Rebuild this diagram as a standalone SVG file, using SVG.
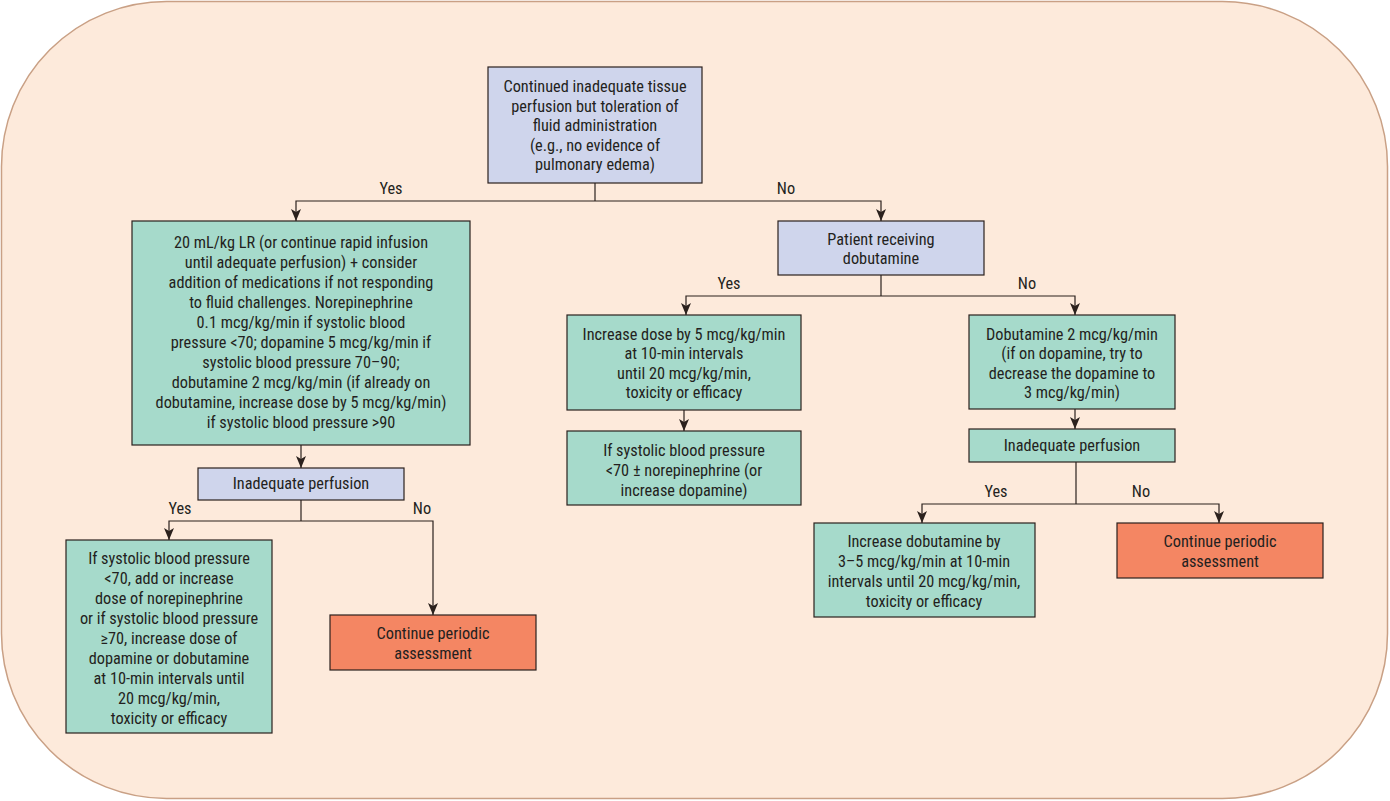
<svg xmlns="http://www.w3.org/2000/svg" width="1390" height="801" viewBox="0 0 1390 801">
<defs>
<marker id="ah" markerUnits="userSpaceOnUse" viewBox="0 0 12 10" refX="12" refY="5" markerWidth="13" markerHeight="10" orient="auto">
<path d="M0,0 L12,5 L0,10 L3,5 Z" fill="#2b211d"/>
</marker>
<style>
.bl{fill:#cfd5ec;stroke:#2b211d;stroke-width:1.2}
.tl{fill:#a6dacb;stroke:#2b211d;stroke-width:1.2}
.or{fill:#f48663;stroke:#2b211d;stroke-width:1.2}
text{font-family:"Liberation Sans Narrow","Roboto Condensed","Liberation Sans",Arial,sans-serif;font-size:16.3px;fill:#231f20;text-anchor:middle}
.c line,.c polyline{stroke:#2b211d;stroke-width:1.2;fill:none}
</style>
</defs>
<rect x="1.5" y="1.5" width="1386" height="797" rx="165" ry="165" fill="#fdeadb" stroke="#c9a085" stroke-width="1.5"/>

<g class="c" id="connectors">
<polyline points="595,183 595,201"/>
<polyline points="595,201 296,201 296,221" marker-end="url(#ah)"/>
<polyline points="595,201 881,201 881,221" marker-end="url(#ah)"/>
<line x1="301" y1="445" x2="301" y2="468" marker-end="url(#ah)"/>
<polyline points="301,500 301,521"/>
<polyline points="301,521 169,521 169,540" marker-end="url(#ah)"/>
<polyline points="301,521 433,521 433,615" marker-end="url(#ah)"/>
<polyline points="881,275 881,296"/>
<polyline points="881,296 686,296 686,315" marker-end="url(#ah)"/>
<polyline points="881,296 1075,296 1075,315" marker-end="url(#ah)"/>
<line x1="684" y1="410" x2="684" y2="431" marker-end="url(#ah)"/>
<line x1="1075" y1="409" x2="1075" y2="429" marker-end="url(#ah)"/>
<polyline points="1076,462 1076,504"/>
<polyline points="1076,504 922,504 922,523" marker-end="url(#ah)"/>
<polyline points="1076,504 1219,504 1219,523" marker-end="url(#ah)"/>
<text x="391" y="194">Yes</text>
<text x="786" y="194">No</text>
<text x="180" y="514">Yes</text>
<text x="422" y="514">No</text>
<text x="729" y="289">Yes</text>
<text x="1027" y="289">No</text>
<text x="996" y="497">Yes</text>
<text x="1141" y="497">No</text>
</g>

<g id="n1">
<rect class="bl" x="488" y="67" width="214" height="116"/>
<text x="595" y="92">Continued inadequate tissue</text>
<text x="595" y="112">perfusion but toleration of</text>
<text x="595" y="131">fluid administration</text>
<text x="595" y="151">(e.g., no evidence of</text>
<text x="595" y="170">pulmonary edema)</text>
</g>

<g id="n2">
<rect class="tl" x="132" y="221" width="338" height="224"/>
<text x="301" y="248">20 mL/kg LR (or continue rapid infusion</text>
<text x="301" y="268">until adequate perfusion) + consider</text>
<text x="301" y="288">addition of medications if not responding</text>
<text x="301" y="308">to fluid challenges. Norepinephrine</text>
<text x="301" y="328">0.1 mcg/kg/min if systolic blood</text>
<text x="301" y="348">pressure &lt;70; dopamine 5 mcg/kg/min if</text>
<text x="301" y="368">systolic blood pressure 70–90;</text>
<text x="301" y="388">dobutamine 2 mcg/kg/min (if already on</text>
<text x="301" y="408">dobutamine, increase dose by 5 mcg/kg/min)</text>
<text x="301" y="428">if systolic blood pressure &gt;90</text>
</g>

<g id="n3">
<rect class="bl" x="198" y="468" width="206" height="32"/>
<text x="301" y="489">Inadequate perfusion</text>
</g>

<g id="n4">
<rect class="tl" x="66" y="540" width="206" height="193"/>
<text x="169" y="564">If systolic blood pressure</text>
<text x="169" y="584">&lt;70, add or increase</text>
<text x="169" y="604">dose of norepinephrine</text>
<text x="169" y="624">or if systolic blood pressure</text>
<text x="169" y="644">≥70, increase dose of</text>
<text x="169" y="664">dopamine or dobutamine</text>
<text x="169" y="684">at 10-min intervals until</text>
<text x="169" y="704">20 mcg/kg/min,</text>
<text x="169" y="724">toxicity or efficacy</text>
</g>

<g id="n5">
<rect class="or" x="330" y="615" width="206" height="55"/>
<text x="433" y="639">Continue periodic</text>
<text x="433" y="659">assessment</text>
</g>

<g id="n6">
<rect class="bl" x="778" y="221" width="206" height="54"/>
<text x="881" y="245">Patient receiving</text>
<text x="881" y="264">dobutamine</text>
</g>

<g id="n7">
<rect class="tl" x="567" y="315" width="234" height="95"/>
<text x="684" y="340">Increase dose by 5 mcg/kg/min</text>
<text x="684" y="359">at 10-min intervals</text>
<text x="684" y="379">until 20 mcg/kg/min,</text>
<text x="684" y="398">toxicity or efficacy</text>
</g>

<g id="n8">
<rect class="tl" x="567" y="431" width="234" height="74"/>
<text x="684" y="456">If systolic blood pressure</text>
<text x="684" y="476">&lt;70 ± norepinephrine (or</text>
<text x="684" y="496">increase dopamine)</text>
</g>

<g id="n9">
<rect class="tl" x="969" y="315" width="206" height="94"/>
<text x="1072" y="340">Dobutamine 2 mcg/kg/min</text>
<text x="1072" y="359">(if on dopamine, try to</text>
<text x="1072" y="379">decrease the dopamine to</text>
<text x="1072" y="398">3 mcg/kg/min)</text>
</g>

<g id="n10">
<rect class="tl" x="969" y="429" width="206" height="33"/>
<text x="1072" y="451">Inadequate perfusion</text>
</g>

<g id="n11">
<rect class="tl" x="814" y="523" width="221" height="94"/>
<text x="924" y="547">Increase dobutamine by</text>
<text x="924" y="567">3–5 mcg/kg/min at 10-min</text>
<text x="924" y="587">intervals until 20 mcg/kg/min,</text>
<text x="924" y="607">toxicity or efficacy</text>
</g>

<g id="n12">
<rect class="or" x="1117" y="523" width="206" height="55"/>
<text x="1220" y="547">Continue periodic</text>
<text x="1220" y="567">assessment</text>
</g>
</svg>
